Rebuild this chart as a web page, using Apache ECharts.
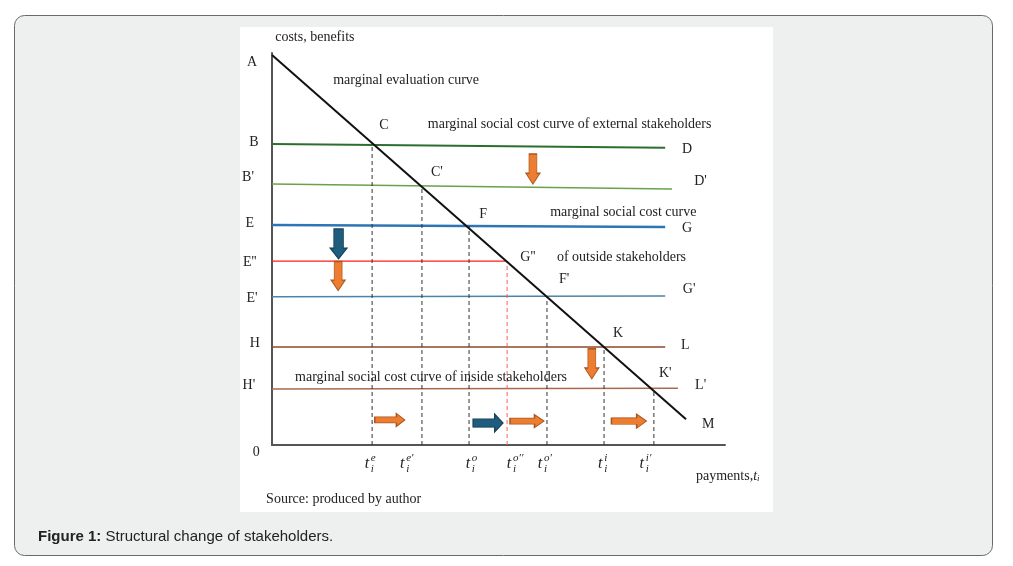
<!DOCTYPE html>
<html><head><meta charset="utf-8">
<script src="https://cdn.jsdelivr.net/npm/echarts@6/dist/echarts.min.js"></script>
<style>html,body{margin:0;padding:0;background:#fff}#c{width:1013px;height:566px}</style>
</head><body><div id="c"></div><script>
// ---- data (axis units: payments 0..100, costs/benefits 0..100) ----
const evalCurve = [[0, 99.5], [91.4, 6.6]];            // A -> M
const levelNames = ["B", "B'", "E", "E''", "E'", "H", "H'"];
const levelStartY = [76.8, 66.6, 56.1, 46.9, 37.8, 25.0, 14.3];
const levelEndY   = [75.8, 65.3, 55.6, 46.9, 38.0, 25.0, 14.5];
const levelEndX   = [86.8, 88.3, 86.8, 51.7, 86.8, 86.8, 89.6];
const levelColors = ['#2b6e2e', '#6aa14a', '#2e75b6', '#ff1a1a', '#4a84a8', '#8c4a2a', '#a86a4c'];
const levelWidths = [2, 1.5, 2.5, 1.2, 1.5, 1.5, 1.5];
const tPoints  = [22.1, 33.1, 43.5, 51.9, 60.7, 73.3, 84.3];  // payments t_i
const tHeights = [76.8, 66.1, 55.9, 46.9, 37.8, 25.0, 14.3];
const tSup     = ["e", "e\u2032", "o", "o\u2032\u2032", "o\u2032", "i", "i\u2032"];
const tLabelX  = [21.6, 29.4, 43.9, 53.0, 59.8, 73.1, 82.3];
const arrowsDown  = [[57.6, 70.4, 'o'], [14.7, 51.3, 'b'], [14.6, 43.1, 'o'], [70.6, 20.7, 'o']];
const arrowsRight = [[26.0, 6.4, 'o'], [47.7, 5.6, 'b'], [56.3, 6.1, 'o'], [78.8, 6.1, 'o']];
const annTexts = ['costs, benefits','A','B',"B'",'E',"E''","E'",'H',"H'",'0',
  'marginal evaluation curve','C','marginal social cost curve of external stakeholders','D',"C'","D'",
  'F','marginal social cost curve','G',"G''",'of outside stakeholders',"F'","G'",'K','L',
  'marginal social cost curve of inside stakeholders',"K'","L'",'M','Source: produced by author'];
const annPos = [[0.7,104.1],[-4.4,97.7],[-4.0,77.3],[-5.3,68.4],[-4.9,56.6],[-4.9,46.7],[-4.4,37.5],[-3.8,26.0],[-5.1,15.3],[-3.5,-1.8],
  [13.5,93.1],[24.7,81.6],[34.4,81.9],[90.5,75.3],[36.4,69.6],[93.2,67.3],
  [46.6,58.9],[61.4,59.4],[90.5,55.4],[56.5,48.0],[62.9,48.0],[64.5,42.3],[90.7,39.8],[76.4,28.6],[90.3,25.5],
  [5.1,17.3],[86.8,18.4],[93.4,15.1],[94.9,5.4],[-1.3,-13.8]];
const annAlign = ['left','center','center','center','center','center','center','center','center','center',
  'left','center','left','left','center','left','center','left','left','center','left','center','left','center','left',
  'left','center','left','left','left'];

const SERIF = '"Liberation Serif", "DejaVu Serif", serif';
const chart = echarts.init(document.getElementById('c'));
const series = [];
levelNames.forEach((n, i) => {
  series.push({type:'line', name:n, data:[[0, levelStartY[i]], [levelEndX[i], levelEndY[i]]],
    symbol:'none', silent:true, z:2, lineStyle:{color:levelColors[i], width:levelWidths[i]}});
});
series.push({type:'line', data:evalCurve, symbol:'none', z:4, silent:true, lineStyle:{color:'#111', width:2}});
series.push({type:'custom', z:3, silent:true, data:tPoints.map((x,i)=>[x, tHeights[i]]),
  renderItem:(p, api) => {
    const a = api.coord([api.value(0), 0]), b = api.coord([api.value(0), api.value(1)]);
    const red = p.dataIndex === 3;
    return {type:'line', shape:{x1:a[0], y1:a[1], x2:b[0], y2:b[1]},
      style:{stroke: red ? '#ff5a5a' : '#333', lineWidth:1, lineDash:[4,3]}};
  }});
series.push({type:'custom', z:5, silent:true, data:tLabelX.map(x=>[x, -4.8]),
  renderItem:(p, api) => {
    const c = api.coord([api.value(0), api.value(1)]);
    const i = p.dataIndex;
    return {type:'group', children:[
      {type:'text', x:c[0]-3, y:c[1], style:{text:'t', font:'italic 16px ' + SERIF, fill:'#222', align:'center', verticalAlign:'middle'}},
      {type:'text', x:c[0]+1, y:c[1]-6, style:{text:tSup[i], font:'italic 11px ' + SERIF, fill:'#222', align:'left', verticalAlign:'middle'}},
      {type:'text', x:c[0]+1, y:c[1]+5, style:{text:'i', font:'italic 11px ' + SERIF, fill:'#222', align:'left', verticalAlign:'middle'}}
    ]};
  }});
series.push({type:'custom', z:5, silent:true, data:annPos,
  renderItem:(p, api) => {
    const c = api.coord([api.value(0), api.value(1)]);
    const i = p.dataIndex;
    return {type:'text', x:c[0], y:c[1], style:{text:annTexts[i], font:'14px ' + SERIF, fill:'#222', align:annAlign[i], verticalAlign:'middle'}};
  }});
// payments label with italic t_i
series.push({type:'custom', z:5, silent:true, data:[[93.6, -7.9]],
  renderItem:(p, api) => {
    const c = api.coord([api.value(0), api.value(1)]);
    return {type:'text', x:c[0], y:c[1], style:{text:'{n|payments,}{t|t}{s|i}', font:'14px ' + SERIF, fill:'#222', align:'left', verticalAlign:'middle',
      rich:{n:{font:'14px ' + SERIF, fill:'#222'}, t:{font:'italic 14px ' + SERIF, fill:'#222'}, s:{font:'italic 9px ' + SERIF, fill:'#222', verticalAlign:'bottom', lineHeight:8}}}};
  }});
const downPath = 'path://M22,0 L78,0 L78,64 L100,64 L50,100 L0,64 L22,64 Z';
const rightPath = 'path://M0,27 L72,27 L72,0 L100,50 L72,100 L72,73 L0,73 Z';
const fill = {o:'#ed7d31', b:'#1f5d7e'}, border = {o:'#a9561f', b:'#163f55'};
const downSizes = [[14,30],[17,30],[14,29],[14,30]];
const rightSizes = [[30,13],[30,18],[34,13],[35,14]];
series.push({type:'scatter', z:6, silent:true, symbol:downPath,
  data:arrowsDown.map((a,i)=>({value:[a[0],a[1]], symbolSize:downSizes[i], itemStyle:{color:fill[a[2]], borderColor:border[a[2]], borderWidth:1, opacity:1}}))});
series.push({type:'scatter', z:6, silent:true, symbol:rightPath,
  data:arrowsRight.map((a,i)=>({value:[a[0],a[1]], symbolSize:rightSizes[i], itemStyle:{color:fill[a[2]], borderColor:border[a[2]], borderWidth:1, opacity:1}}))});

chart.setOption({
  animation:false,
  graphic:[
    {type:'rect', z:-10, shape:{x:14.5, y:15.5, width:978, height:540, r:10}, style:{fill:'#eef0ef', stroke:'#6a6a6a', lineWidth:1}},
    {type:'rect', z:-9, shape:{x:240, y:27, width:533, height:485}, style:{fill:'#ffffff'}},
    {type:'text', left:38, top:529, style:{text:'{b|Figure 1:} Structural change of stakeholders.', font:'15px "Liberation Sans", Arial, sans-serif', fill:'#222',
      rich:{b:{font:'bold 15px "Liberation Sans", Arial, sans-serif', fill:'#222'}}}}
  ],
  grid:{left:272, top:53, width:453, height:392},
  xAxis:{type:'value', min:0, max:100, axisLine:{show:true, onZero:false, lineStyle:{color:'#555', width:2}}, axisTick:{show:false}, axisLabel:{show:false}, splitLine:{show:false}},
  yAxis:{type:'value', min:0, max:100, axisLine:{show:true, onZero:false, lineStyle:{color:'#555', width:2}}, axisTick:{show:false}, axisLabel:{show:false}, splitLine:{show:false}},
  series
});
</script></body></html>
